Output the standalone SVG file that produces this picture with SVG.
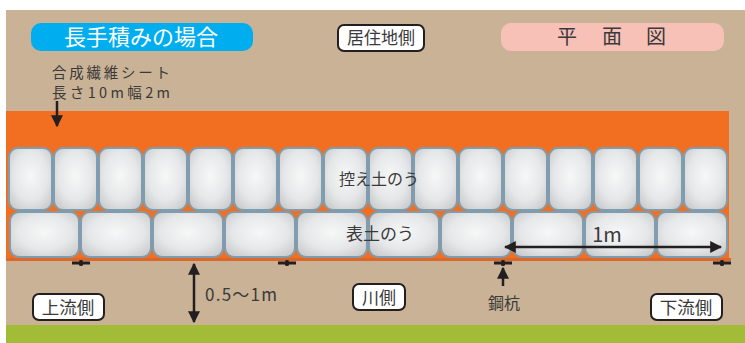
<svg xmlns="http://www.w3.org/2000/svg" width="745" height="343" viewBox="0 0 745 343">
  <defs>
    <radialGradient id="bagFill" cx="50%" cy="45%" r="65%">
      <stop offset="0" stop-color="#f6f7f7"/>
      <stop offset="0.6" stop-color="#e6e7e8"/>
      <stop offset="1" stop-color="#c9cbcd"/>
    </radialGradient>
    <marker id="headL" viewBox="0 0 10 10" refX="9" refY="5" markerWidth="12" markerHeight="12" markerUnits="userSpaceOnUse" orient="auto-start-reverse">
      <path d="M0,0 L10,5 L0,10 z" fill="#231f20"/>
    </marker>
    <g id="pile">
      <rect x="-9" y="-1.5" width="18" height="3" fill="#231f20"/>
      <rect x="-2" y="-3" width="4" height="6" rx="1.5" fill="#231f20"/>
    </g>
  </defs>
  <style>
    .jp { font-family: "Noto Sans CJK JP", "Noto Sans", sans-serif; fill: #3a3a3a; }
    .bag { fill: url(#bagFill); stroke: #7f9dae; stroke-width: 2; }
    .tag { fill: #ffffff; stroke: #231f20; stroke-width: 2; }
    .dim { stroke: #231f20; stroke-width: 2.5; fill: none; }
  </style>

  <!-- ground and backdrop -->
  <rect x="0" y="0" width="745" height="343" fill="#ffffff"/>
  <rect x="6" y="10" width="739" height="315" fill="#c9b295"/>
  <rect x="6" y="325" width="739" height="18" fill="#a3bc38"/>

  <!-- synthetic fibre sheet -->
  <rect id="sheet" x="6" y="111" width="723" height="148" fill="#f26f21"/>
  <rect x="6" y="258" width="725" height="3" fill="#d9682a"/>

  <!-- back row of sandbags -->
  <g id="backRow">
    <rect class="bag" x="9" y="148" width="43" height="62" rx="9"/>
    <rect class="bag" x="54" y="148" width="43" height="62" rx="9"/>
    <rect class="bag" x="99" y="148" width="43" height="62" rx="9"/>
    <rect class="bag" x="144" y="148" width="43" height="62" rx="9"/>
    <rect class="bag" x="189" y="148" width="43" height="62" rx="9"/>
    <rect class="bag" x="234" y="148" width="43" height="62" rx="9"/>
    <rect class="bag" x="279" y="148" width="43" height="62" rx="9"/>
    <rect class="bag" x="324" y="148" width="43" height="62" rx="9"/>
    <rect class="bag" x="369" y="148" width="43" height="62" rx="9"/>
    <rect class="bag" x="414" y="148" width="43" height="62" rx="9"/>
    <rect class="bag" x="459" y="148" width="43" height="62" rx="9"/>
    <rect class="bag" x="504" y="148" width="43" height="62" rx="9"/>
    <rect class="bag" x="549" y="148" width="43" height="62" rx="9"/>
    <rect class="bag" x="594" y="148" width="43" height="62" rx="9"/>
    <rect class="bag" x="639" y="148" width="43" height="62" rx="9"/>
    <rect class="bag" x="684" y="148" width="43" height="62" rx="9"/>
  </g>

  <!-- front row of sandbags -->
  <g id="frontRow">
    <rect class="bag" x="10" y="212" width="69" height="45" rx="9"/>
    <rect class="bag" x="81" y="212" width="70" height="45" rx="9"/>
    <rect class="bag" x="153" y="212" width="70" height="45" rx="9"/>
    <rect class="bag" x="225" y="212" width="70" height="45" rx="9"/>
    <rect class="bag" x="297" y="212" width="70" height="45" rx="9"/>
    <rect class="bag" x="369" y="212" width="70" height="45" rx="9"/>
    <rect class="bag" x="441" y="212" width="70" height="45" rx="9"/>
    <rect class="bag" x="513" y="212" width="70" height="45" rx="9"/>
    <rect class="bag" x="585" y="212" width="70" height="45" rx="9"/>
    <rect class="bag" x="657" y="212" width="70" height="45" rx="9"/>
  </g>

  <text class="jp" x="379" y="185" font-size="16" text-anchor="middle">控え土のう</text>
  <text class="jp" x="380" y="240" font-size="17" text-anchor="middle">表土のう</text>

  <!-- steel piles -->
  <g id="piles">
    <use href="#pile" x="81" y="263"/>
    <use href="#pile" x="287" y="263"/>
    <use href="#pile" x="503" y="263"/>
    <use href="#pile" x="722" y="263"/>
  </g>

  <!-- dimension and pointer lines -->
  <g id="connectors">
    <line class="dim" x1="57" y1="101" x2="57" y2="126" marker-end="url(#headL)"/>
    <line class="dim" x1="505" y1="247" x2="721" y2="247" marker-start="url(#headL)" marker-end="url(#headL)"/>
    <line class="dim" x1="194" y1="264" x2="194" y2="322" marker-start="url(#headL)" marker-end="url(#headL)"/>
    <line class="dim" x1="503" y1="286" x2="503" y2="268" marker-end="url(#headL)"/>
  </g>

  <text class="jp" x="607" y="242" font-size="20" text-anchor="middle">1m</text>
  <text class="jp" x="205" y="301" font-size="17" textLength="72" lengthAdjust="spacing">0.5〜1m</text>
  <text class="jp" x="504" y="309" font-size="16" text-anchor="middle">鋼杭</text>

  <text class="jp" font-size="14.5">
    <tspan x="52" y="78" textLength="118" lengthAdjust="spacing">合成繊維シート</tspan>
    <tspan x="52" y="98" textLength="118" lengthAdjust="spacing">長さ10m幅2m</tspan>
  </text>

  <!-- title pills -->
  <g id="titleBlue">
    <rect x="31" y="23" width="222" height="28" rx="10" fill="#00aeef"/>
    <text x="141" y="45" font-size="22" text-anchor="middle" fill="#ffffff" font-family="Noto Sans CJK JP, sans-serif">長手積みの場合</text>
  </g>
  <g id="titlePink">
    <rect x="501" y="23" width="223" height="28" rx="10" fill="#f8c1b8"/>
    <text class="jp" font-size="20" text-anchor="middle"><tspan x="567" y="44">平</tspan><tspan x="612" y="44">面</tspan><tspan x="656" y="44">図</tspan></text>
  </g>

  <!-- side tags -->
  <g id="tagResidential">
    <rect class="tag" x="338" y="25" width="86" height="26" rx="6"/>
    <text class="jp" x="381" y="44" font-size="17" text-anchor="middle">居住地側</text>
  </g>
  <g id="tagRiver">
    <rect class="tag" x="353" y="284" width="52" height="26" rx="6"/>
    <text class="jp" x="379" y="303.5" font-size="17" text-anchor="middle">川側</text>
  </g>
  <g id="tagUpstream">
    <rect class="tag" x="33" y="294" width="71" height="26" rx="6"/>
    <text class="jp" x="68" y="313.5" font-size="17.5" text-anchor="middle">上流側</text>
  </g>
  <g id="tagDownstream">
    <rect class="tag" x="651" y="294" width="71" height="26" rx="6"/>
    <text class="jp" x="686" y="313.5" font-size="17.5" text-anchor="middle">下流側</text>
  </g>
</svg>
